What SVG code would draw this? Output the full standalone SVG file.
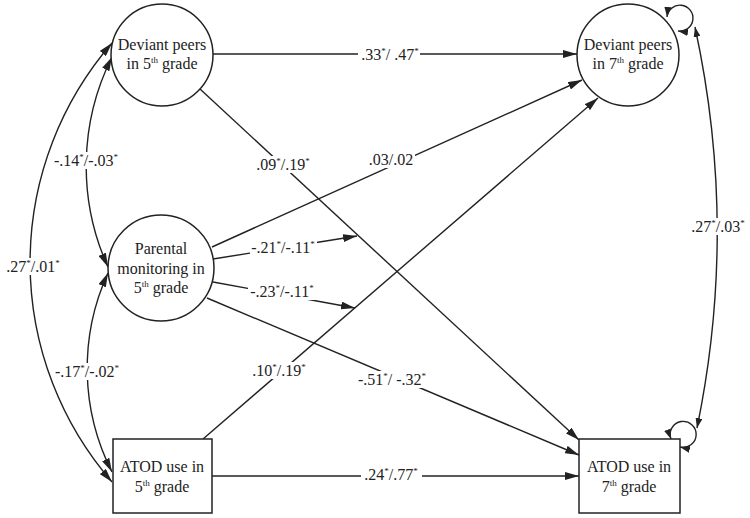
<svg xmlns="http://www.w3.org/2000/svg" width="750" height="518" viewBox="0 0 750 518">
<style>
text{font-family:"Liberation Serif","Times New Roman",serif;font-size:16px;fill:#222;text-anchor:middle}
.s{font-size:9px}
.node{fill:#fff;stroke:#222;stroke-width:1.5}
.c{fill:none;stroke:#222;stroke-width:1.4}
.bg{fill:#fff}
</style>
<defs>
<marker id="a" markerUnits="userSpaceOnUse" markerWidth="14" markerHeight="8" refX="14" refY="4" orient="auto-start-reverse"><path d="M0,0L14,4L0,8z" fill="#222"/></marker>
<marker id="b" markerUnits="userSpaceOnUse" markerWidth="10" markerHeight="7" refX="10" refY="3.5" orient="auto-start-reverse"><path d="M0,0L10,3.5L0,7z" fill="#222"/></marker>
</defs>
<g id="connectors">
<path class="c" d="M213,54L577,54" marker-end="url(#a)"/>
<path class="c" d="M200,89L579,440" marker-end="url(#a)"/>
<path class="c" d="M212,247L582,80" marker-end="url(#a)"/>
<path class="c" d="M213,259L357,236" marker-end="url(#a)"/>
<path class="c" d="M213,282L355,308" marker-end="url(#a)"/>
<path class="c" d="M207,298L579,455" marker-end="url(#a)"/>
<path class="c" d="M203,439L598,98" marker-end="url(#a)"/>
<path class="c" d="M212,476L579,476" marker-end="url(#a)"/>
<path class="c" d="M112,43A335,335 0 0 0 112,482" marker-start="url(#a)" marker-end="url(#a)"/>
<path class="c" d="M112,57A244,244 0 0 0 108,267" marker-start="url(#a)" marker-end="url(#a)"/>
<path class="c" d="M108,273A229,229 0 0 0 112,472" marker-start="url(#a)" marker-end="url(#a)"/>
<path class="c" d="M695,27A968,968 0 0 1 697,428" marker-start="url(#b)" marker-end="url(#b)"/>
<path class="c" d="M667,17A13,13 0 1 1 678,31" marker-start="url(#b)" marker-end="url(#b)"/>
<path class="c" d="M671,439A13,13 0 1 1 680,447" marker-start="url(#b)" marker-end="url(#b)"/>
</g>
<g id="labels">
<rect class="bg" x="358" y="46" width="62" height="17"/>
<text x="390" y="60">.33<tspan class="s" dy="-6">*</tspan><tspan dy="6">/ .47</tspan><tspan class="s" dy="-6">*</tspan></text>
<rect class="bg" x="253" y="156" width="61" height="17"/>
<text x="283" y="170">.09<tspan class="s" dy="-6">*</tspan><tspan dy="6">/.19</tspan><tspan class="s" dy="-6">*</tspan></text>
<rect class="bg" x="366" y="151" width="49" height="17"/>
<text x="391" y="165">.03/.02</text>
<rect class="bg" x="250" y="239" width="67" height="17"/>
<text x="283" y="253">-.21<tspan class="s" dy="-6">*</tspan><tspan dy="6">/-.11</tspan><tspan class="s" dy="-6">*</tspan></text>
<rect class="bg" x="248" y="283" width="69" height="17"/>
<text x="282" y="297">-.23<tspan class="s" dy="-6">*</tspan><tspan dy="6">/-.11</tspan><tspan class="s" dy="-6">*</tspan></text>
<rect class="bg" x="250" y="362" width="59" height="17"/>
<text x="279" y="376">.10<tspan class="s" dy="-6">*</tspan><tspan dy="6">/.19</tspan><tspan class="s" dy="-6">*</tspan></text>
<rect class="bg" x="354" y="371" width="76" height="17"/>
<text x="392" y="385">-.51<tspan class="s" dy="-6">*</tspan><tspan dy="6">/ -.32</tspan><tspan class="s" dy="-6">*</tspan></text>
<rect class="bg" x="361" y="466" width="61" height="17"/>
<text x="391" y="480">.24<tspan class="s" dy="-6">*</tspan><tspan dy="6">/.77</tspan><tspan class="s" dy="-6">*</tspan></text>
<rect class="bg" x="688" y="218" width="61" height="17"/>
<text x="718" y="232">.27<tspan class="s" dy="-6">*</tspan><tspan dy="6">/.03</tspan><tspan class="s" dy="-6">*</tspan></text>
<rect class="bg" x="2" y="258" width="62" height="17"/>
<text x="33" y="272">.27<tspan class="s" dy="-6">*</tspan><tspan dy="6">/.01</tspan><tspan class="s" dy="-6">*</tspan></text>
<rect class="bg" x="52" y="152" width="68" height="17"/>
<text x="86" y="166">-.14<tspan class="s" dy="-6">*</tspan><tspan dy="6">/-.03</tspan><tspan class="s" dy="-6">*</tspan></text>
<rect class="bg" x="53" y="363" width="68" height="17"/>
<text x="87" y="377">-.17<tspan class="s" dy="-6">*</tspan><tspan dy="6">/-.02</tspan><tspan class="s" dy="-6">*</tspan></text>
</g>
<g id="dev5">
<circle class="node" cx="162" cy="55" r="51"/>
<text x="162" y="50">Deviant peers</text>
<text x="162" y="69">in 5<tspan class="s" dy="-6">th</tspan><tspan dy="6"> grade</tspan></text>
</g>
<g id="dev7">
<circle class="node" cx="628" cy="55" r="51"/>
<text x="628" y="50">Deviant peers</text>
<text x="628" y="69">in 7<tspan class="s" dy="-6">th</tspan><tspan dy="6"> grade</tspan></text>
</g>
<g id="par5">
<circle class="node" cx="161" cy="268" r="53"/>
<text x="161" y="254">Parental</text>
<text x="161" y="274">monitoring in</text>
<text x="161" y="293">5<tspan class="s" dy="-6">th</tspan><tspan dy="6"> grade</tspan></text>
</g>
<g id="atod5">
<rect class="node" x="113" y="439" width="99" height="74"/>
<text x="162" y="472">ATOD use in</text>
<text x="162" y="492">5<tspan class="s" dy="-6">th</tspan><tspan dy="6"> grade</tspan></text>
</g>
<g id="atod7">
<rect class="node" x="579" y="439" width="101" height="74"/>
<text x="629" y="472">ATOD use in</text>
<text x="629" y="492">7<tspan class="s" dy="-6">th</tspan><tspan dy="6"> grade</tspan></text>
</g>
</svg>
